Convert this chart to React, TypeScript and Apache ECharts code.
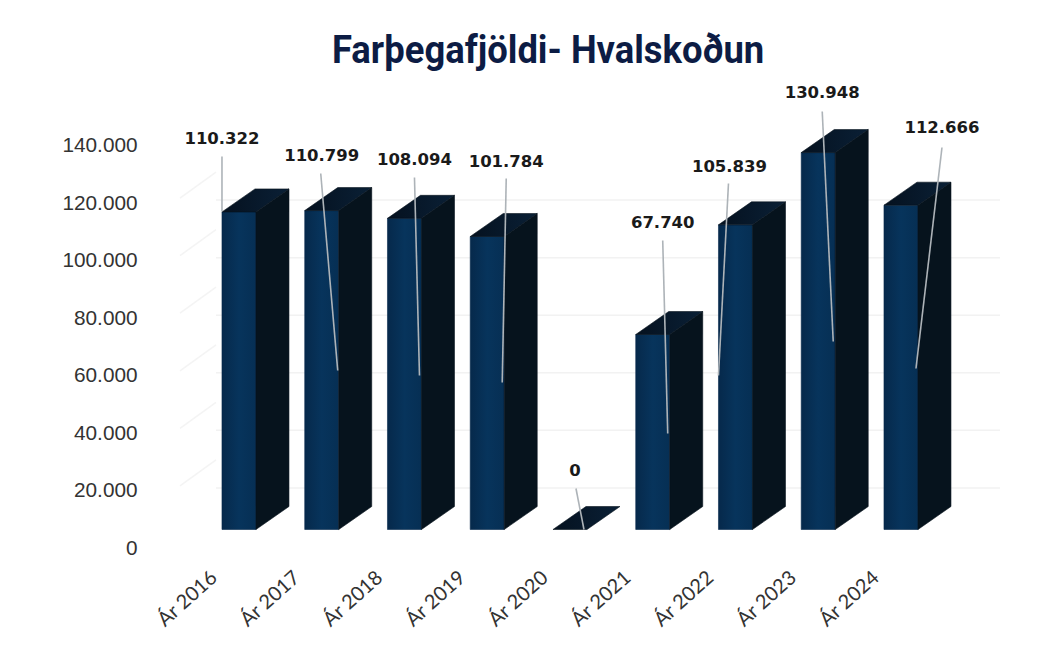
import React, { useEffect, useRef } from "react";
import * as echarts from "echarts";

const categories = ["Ár 2016", "Ár 2017", "Ár 2018", "Ár 2019", "Ár 2020", "Ár 2021", "Ár 2022", "Ár 2023", "Ár 2024"];
const passengers = [110322, 110799, 108094, 101784, 0, 67740, 105839, 130948, 112666];
const valueLabels = ["110.322", "110.799", "108.094", "101.784", "0", "67.740", "105.839", "130.948", "112.666"];
const gridValues = [20000, 40000, 60000, 80000, 100000, 120000];

// Label anchor and leader ends, in pixels relative to each bar's front-left foot.
const labelOffset = [[0, -391], [17, -374], [27, -370], [36, -368], [22, -59], [27, -307], [11, -363], [21, -437], [58, -402]];
const leaderStart = [[0, -373], [16, -356], [27, -352], [36, -351], [23, -41], [27, -289], [10, -346], [21, -418], [58, -382]];
const leaderEnd = [[0, -318], [33, -159], [32, -154], [32, -147], [31, 0], [32, -96], [0, -154], [32, -188], [32, -161]];

const FRONT = new echarts.graphic.LinearGradient(0, 0, 1, 0, [
  { offset: 0, color: "#06294b" },
  { offset: 0.5, color: "#07345c" },
  { offset: 1, color: "#062f54" },
]);
const SIDE = "#06131d";
const TOP = new echarts.graphic.LinearGradient(0, 0, 1, 0, [
  { offset: 0, color: "#05111f" },
  { offset: 1, color: "#0a2036" },
]);

const BAR_W = 34;
const DEPTH_X = 33;
const DEPTH_Y = 23;
const FOOT_DX = 9;
const FOOT_DY = -18;

function foot(api: any, i: number) {
  const p = api.coord([i, 0]);
  return [p[0] + FOOT_DX, p[1] + FOOT_DY];
}

const renderGrid = (_p: any, api: any) => {
  const y = api.coord([0, api.value(1)])[1];
  return {
    type: "group",
    silent: true,
    children: [
      { type: "line", shape: { x1: 216, y1: y - 2, x2: 1000, y2: y - 2 }, style: { stroke: "#f2f2f2", lineWidth: 1.5 } },
      { type: "line", shape: { x1: 180, y1: y - 4, x2: 216, y2: y - 30 }, style: { stroke: "#f4f4f4", lineWidth: 1.5 } },
    ],
  };
};

const renderBar = (params: any, api: any) => {
  const i = params.dataIndex;
  const [x, y0] = foot(api, i);
  const h = api.coord([i, 0])[1] - api.coord([i, api.value(1)])[1];
  const t = y0 - h;
  const r = x + BAR_W;
  const children: any[] = [];
  if (h > 0) {
    children.push({
      type: "polygon",
      shape: { points: [[x, y0], [r, y0], [r, t], [x, t]] },
      style: { fill: FRONT, stroke: "#06294b", lineWidth: 0.6 },
    });
    children.push({
      type: "polygon",
      shape: { points: [[r, y0], [r + DEPTH_X, y0 - DEPTH_Y], [r + DEPTH_X, t - DEPTH_Y], [r, t]] },
      style: { fill: SIDE, stroke: SIDE, lineWidth: 0.6 },
    });
  }
  children.push({
    type: "polygon",
    shape: { points: [[x, t], [r, t], [r + DEPTH_X, t - DEPTH_Y], [x + DEPTH_X, t - DEPTH_Y]] },
    style: { fill: TOP, stroke: "#06131d", lineWidth: 0.6 },
  });
  return { type: "group", children };
};

const renderLeader = (params: any, api: any) => {
  const i = params.dataIndex;
  const [x, y0] = foot(api, i);
  const s = leaderStart[i];
  const e = leaderEnd[i];
  const l = labelOffset[i];
  return {
    type: "group",
    children: [
      {
        type: "line",
        shape: { x1: x + s[0], y1: y0 + s[1], x2: x + e[0], y2: y0 + e[1] },
        style: { stroke: "#adb3b8", lineWidth: 1.6 },
      },
      {
        type: "text",
        x: x + l[0],
        y: y0 + l[1],
        style: {
          text: valueLabels[i],
          fill: "#1a1a1a",
          font: "bold 16.5px 'DejaVu Sans'",
          textAlign: "center",
          textVerticalAlign: "middle",
        },
      },
    ],
  };
};

export default function App() {
  const ref = useRef<HTMLDivElement>(null);
  useEffect(() => {
    const chart = echarts.init(ref.current!, undefined, { renderer: "svg" });
    const rows = passengers.map((v, i) => [categories[i], v]);
    chart.setOption({
      animation: false,
      backgroundColor: "#ffffff",
      grid: { left: 171.6, top: 144.5, width: 744.75, height: 403, containLabel: false },
      xAxis: {
        type: "category",
        data: categories,
        axisLine: { show: false },
        axisTick: { show: false },
        splitLine: { show: false },
        axisLabel: {
          rotate: 42,
          interval: 0,
          margin: 26,
          color: "#333333",
          fontSize: 20,
          fontFamily: "Lato",
        },
      },
      yAxis: {
        type: "value",
        min: 0,
        max: 140000,
        interval: 20000,
        axisLine: { show: false },
        axisTick: { show: false },
        splitLine: { show: false },
        axisLabel: {
          margin: 34,
          color: "#333333",
          fontSize: 20.8,
          fontFamily: "'Liberation Sans'",
          formatter: (v: number) => (v === 0 ? "0" : `${v / 1000}.000`),
        },
      },
      graphic: [
        {
          type: "text",
          x: 332,
          y: 50,
          scaleX: 0.958,
          style: {
            text: "Farþegafjöldi- Hvalskoðun",
            fill: "#0c1c44",
            font: "bold 38px Roboto",
            textAlign: "left",
            textVerticalAlign: "middle",
          },
        },
      ],
      series: [
        {
          type: "custom",
          coordinateSystem: "cartesian2d",
          data: gridValues.map((v) => [0, v]),
          renderItem: renderGrid,
          clip: false,
          z: 1,
          silent: true,
        },
        {
          name: "Farþegafjöldi",
          type: "custom",
          coordinateSystem: "cartesian2d",
          data: rows,
          encode: { x: 0, y: 1 },
          renderItem: renderBar,
          clip: false,
          z: 2,
        },
        {
          type: "custom",
          coordinateSystem: "cartesian2d",
          data: rows,
          encode: { x: 0, y: 1 },
          renderItem: renderLeader,
          clip: false,
          z: 3,
        },
      ],
    });
    return () => chart.dispose();
  }, []);
  return <div ref={ref} style={{ position: "fixed", left: 0, top: 0, width: 1037, height: 648 }} />;
}
